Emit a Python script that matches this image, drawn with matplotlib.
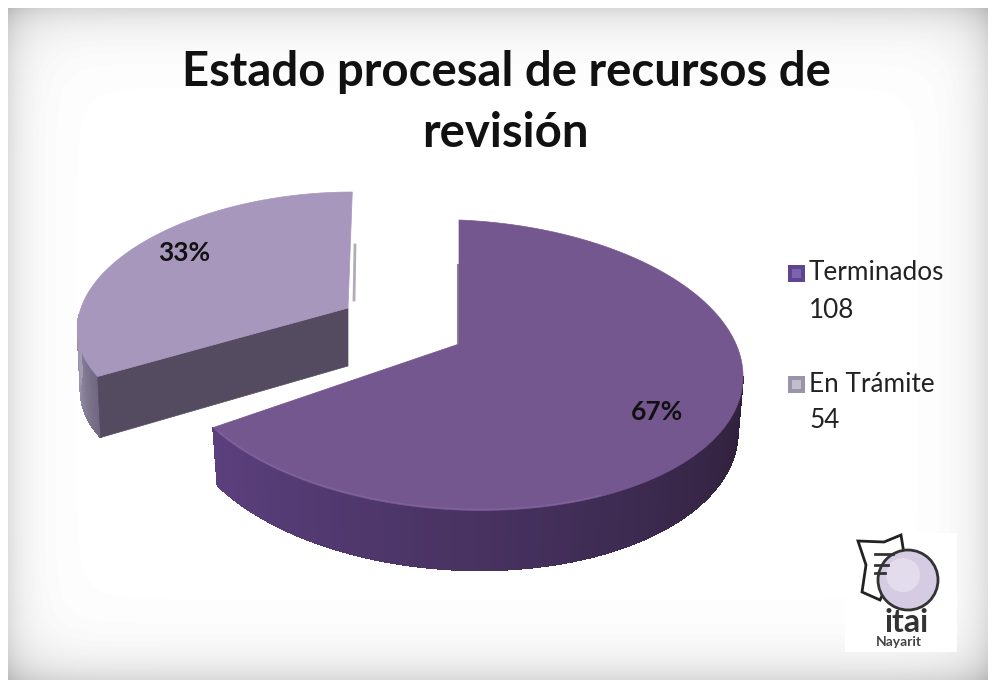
# -*- coding:utf-8 -*-
import numpy as np
import matplotlib
matplotlib.use('Agg')
import matplotlib.pyplot as plt
from matplotlib.patches import Polygon, Rectangle, Circle

title_lines = ['Estado procesal de recursos de', 'revisión']
labels = ['Terminados', 'En Trámite']
values = [108, 54]

W, H = 995, 688
plt.rcParams['font.family'] = ['Lato', 'DejaVu Sans']

fig = plt.figure(figsize=(W / 100, H / 100), dpi=100)
ax = fig.add_axes([0, 0, 1, 1])
ax.set_xlim(0, W)
ax.set_ylim(H, 0)
ax.axis('off')

# background: white border, grey inner shadow
xx, yy = np.meshgrid(np.arange(W) + .5, np.arange(H) + .5)
dx = np.minimum(xx - 8, 988 - xx)
dy = np.minimum(yy - 8, 680 - yy)
shade = 1 - .13 * np.exp(-dx / 20) - .15 * np.exp(-dy / 22)
shade[(dx < 0) | (dy < 0)] = 1
ax.imshow(shade, cmap='gray', vmin=0, vmax=1, extent=(0, W, H, 0), aspect='auto', zorder=0)
ax.set_xlim(0, W)
ax.set_ylim(H, 0)


def arc(t0, t1, cx, cy, rx, ry, kx=0, ky=0, n=120):
    # angle clockwise from the top of the pie, squashed ellipse with a little skew
    t = np.radians(np.linspace(t0, t1, n))
    ex = rx * np.sin(t)
    ey = -ry * np.cos(t)
    return np.column_stack([cx + ex + kx * ey, cy + ey + ky * ex])


def mix(c0, c1, f):
    return tuple(a + (b - a) * f for a, b in zip(matplotlib.colors.to_rgb(c0), matplotlib.colors.to_rgb(c1)))


split = 360 * values[0] / sum(values)
pct = [str(round(100 * v / sum(values))) + '%' for v in values]

# En Tramite slice, pulled out to the upper left
top2 = arc(split, 360, 324, 315, 245, 123, kx=-.23)
low2 = arc(split, 360, 327, 376, 245, 123, kx=-.23)
apex2 = np.array([348, 308])
apex2_low = np.array([348, 366])

n_rim = 30
ax.add_patch(Polygon(np.vstack([top2[:n_rim], low2[:n_rim][::-1]]), fc='#8a8199', ec='none', zorder=2))
for i in range(n_rim):
    c = mix('#6f6680', '#a59cb5', i / n_rim)
    q = np.vstack([top2[i:i + 2], low2[i:i + 2][::-1]])
    ax.add_patch(Polygon(q, fc=c, ec=c, lw=.5, antialiased=False, zorder=2))
ax.add_patch(Polygon([apex2, top2[0], low2[0], apex2_low], fc='#554b61', ec='#554b61', lw=.5, zorder=3))
ax.add_patch(Polygon(np.vstack([apex2, top2]), fc='#a797bd', ec='#a797bd', lw=.5, zorder=4))
ax.plot([355, 354], [245, 300], color='#7d7588', lw=2, alpha=.6, zorder=3)

# Terminados slice
top1 = arc(90, split, 459, 365, 284, 145, ky=.04)
low1 = arc(90, split, 459, 420, 279, 150, ky=.04)
ax.add_patch(Polygon(np.vstack([top1, low1[::-1]]), fc='#44305c', ec='none', zorder=5))
n = len(top1) - 1
for i in range(n):
    f = i / n
    c = mix('#2e1f38', '#44305c', f * 2) if f < .5 else mix('#44305c', '#5c407e', f * 2 - 1)
    q = np.vstack([top1[i:i + 2], low1[i:i + 2][::-1]])
    ax.add_patch(Polygon(q, fc=c, ec=c, lw=.5, antialiased=False, zorder=5))
full1 = arc(0, split, 459, 365, 284, 145, ky=.04, n=300)
ax.add_patch(Polygon(np.vstack([[459, 344], full1]), fc='#74578f', ec='#74578f', lw=.5, zorder=6))
rim = arc(150, split - 2, 459, 364, 284, 145, ky=.04)
ax.plot(rim[:, 0], rim[:, 1], color='#8568a3', lw=1, alpha=.7, zorder=7)
ax.plot([458, 458], [265, 343], color='#3e3050', lw=1.5, alpha=.6, zorder=5)

# title and data labels
ax.text(506, 72, title_lines[0], ha='center', va='center', fontsize=34, fontweight='bold', color='#111111', zorder=10)
ax.text(505, 133, title_lines[1], ha='center', va='center', fontsize=34, fontweight='bold', color='#111111', zorder=10)
ax.text(657, 412, pct[0], ha='center', va='center', fontsize=19, fontweight='bold', color='#111111', zorder=10)
ax.text(184, 253, pct[1], ha='center', va='center', fontsize=19, fontweight='bold', color='#111111', zorder=10)

# legend
legend_y = [273, 384]
legend_col = [('#5d4590', '#7d63ad'), ('#9b93a8', '#c4bdcd')]
for lab, val, y, (c0, c1) in zip(labels, values, legend_y, legend_col):
    ax.add_patch(Rectangle((788, y - 8), 17, 17, fc=c0, ec='none', zorder=10))
    ax.add_patch(Rectangle((792, y - 4), 9, 9, fc=c1, ec='none', zorder=11))
    ax.text(809, y, lab, ha='left', va='center', fontsize=18.8, color='#222222', zorder=10)
    ax.text(809, y + 37, str(val), ha='left', va='center', fontsize=18.8, color='#222222', zorder=10)

# itai logo
ax.add_patch(Rectangle((845, 533), 112, 119, fc='white', ec='none', zorder=10))
paper = [(858, 541), (884, 542), (901, 535), (905, 560), (885, 590), (880, 600), (862, 592), (866, 565)]
ax.add_patch(Polygon(paper, fc='white', ec='#222222', lw=2, zorder=11))
ax.add_patch(Circle((908, 580), 30, fc='#d5cbe3', ec='#333333', lw=2, zorder=12))
ax.add_patch(Circle((903, 575), 17, fc='#e3dcec', ec='none', zorder=12))
for y0, x1 in [(554, 893), (565, 888), (573, 885)]:
    ax.plot([875, x1], [y0, y0], color='#333333', lw=2, zorder=13)
ax.text(907, 623, 'itai', ha='center', va='center', fontsize=23, fontweight='bold', color='#333333', zorder=13)
ax.text(899, 642, 'Nayarit', ha='center', va='center', fontsize=10, fontweight='bold', color='#444444', zorder=13)

plt.savefig('out.png', dpi=100)
